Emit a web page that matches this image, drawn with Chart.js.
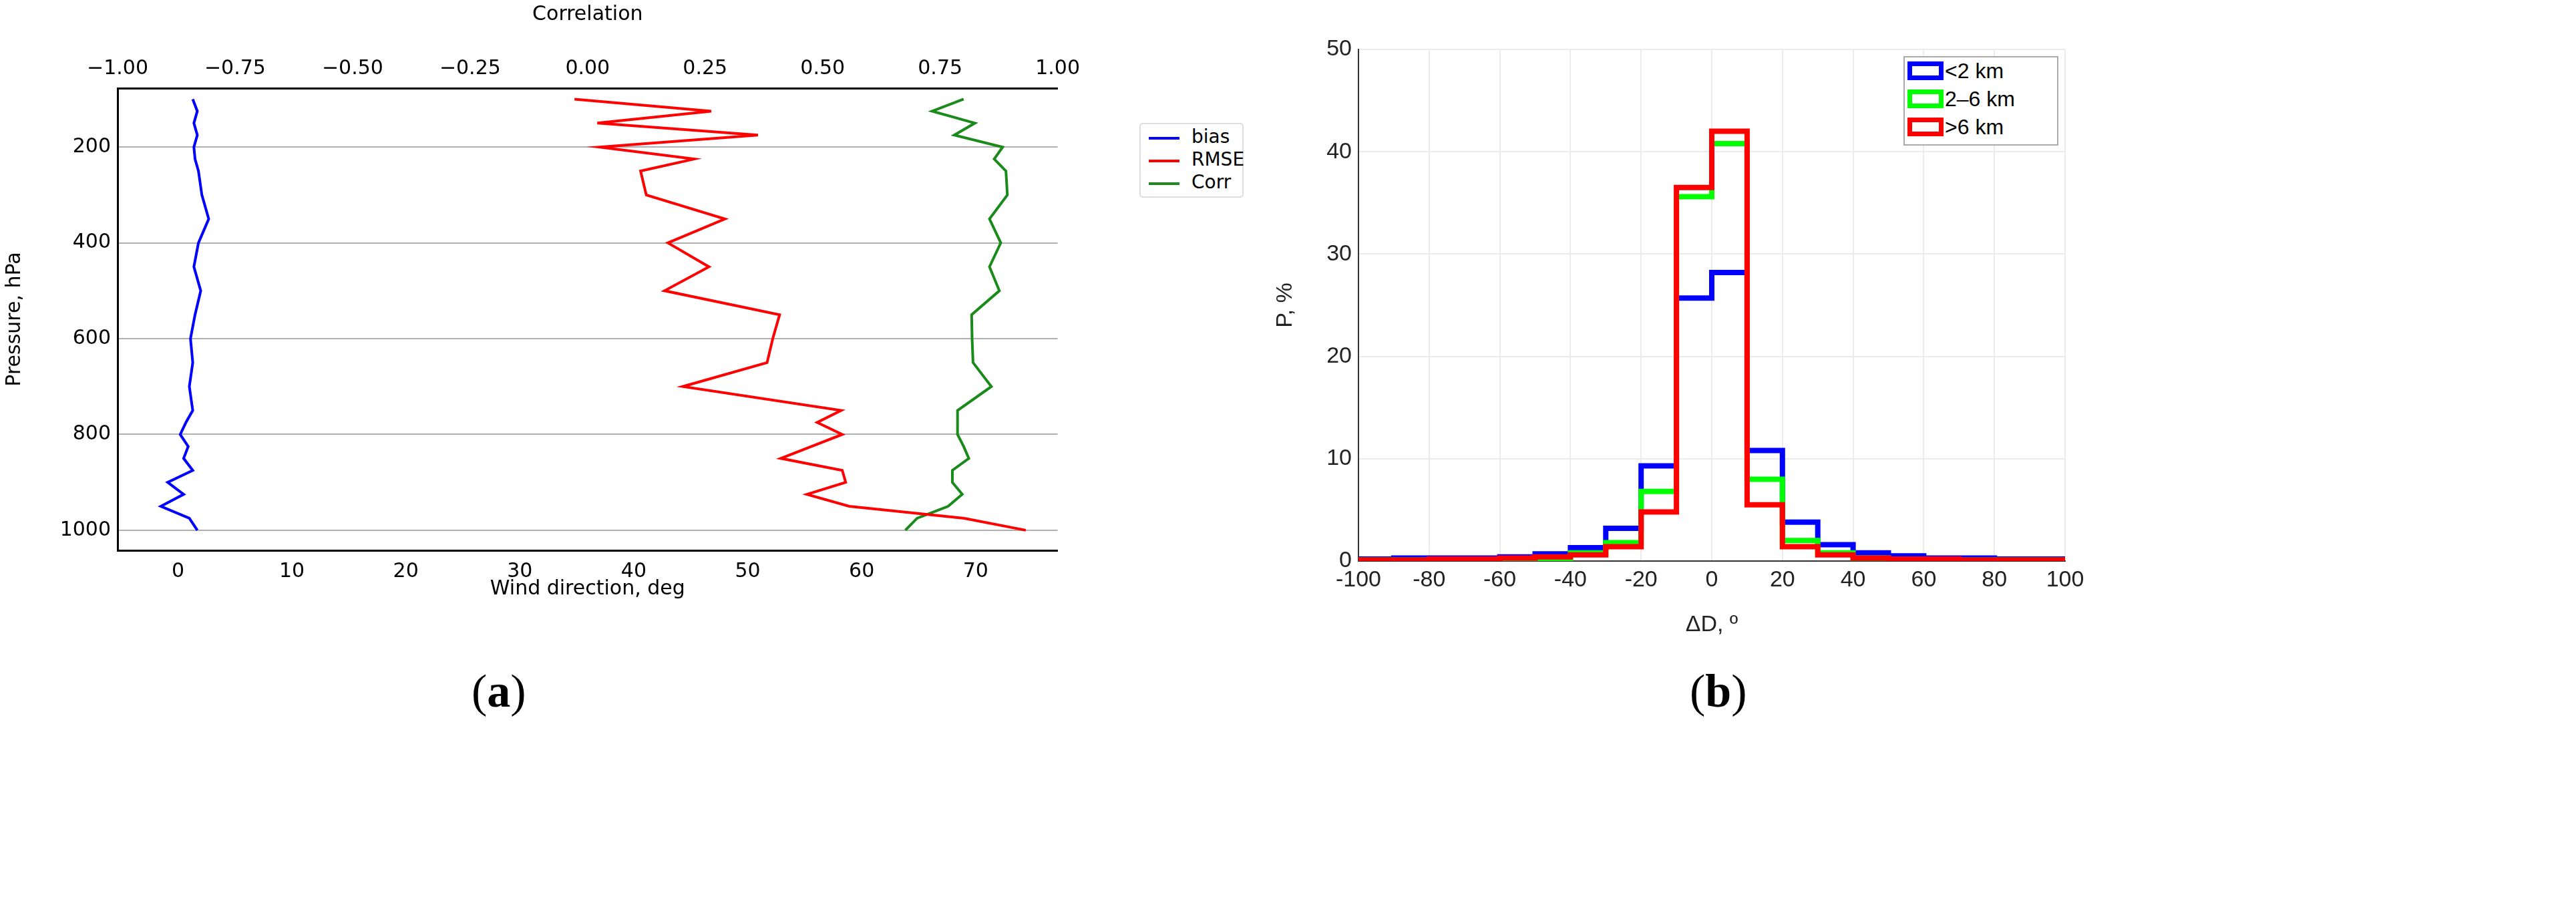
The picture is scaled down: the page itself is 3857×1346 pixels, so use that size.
<!DOCTYPE html>
<html>
<head>
<meta charset="utf-8">
<script src="https://cdn.jsdelivr.net/npm/chart.js@4"></script>
<style>
  body { margin: 0; background: #fff; width: 3857px; height: 1346px; position: relative; overflow: hidden; font-family: "DejaVu Sans", sans-serif; }
  canvas { position: absolute; }
  .leg { position: absolute; background: #fff; }
  .cap { position: absolute; font-family: "Liberation Serif", serif; font-size: 70px; }
</style>
</head>
<body>
<div style="position:absolute;left:0;top:0;width:1620px;height:900px"><canvas id="chartA"></canvas></div>
<div style="position:absolute;left:1900px;top:0;width:1957px;height:960px"><canvas id="chartB"></canvas></div>

<div class="leg" style="left:1706px;top:184px;width:152px;height:108px;border:2px solid #ddd;border-radius:5px;font-size:28px;">
  <div style="position:absolute;left:12px;top:19px;width:46px;height:4px;background:#00f"></div><div style="position:absolute;left:76px;top:2px">bias</div>
  <div style="position:absolute;left:12px;top:53px;width:46px;height:4px;background:#f00"></div><div style="position:absolute;left:76px;top:36px">RMSE</div>
  <div style="position:absolute;left:12px;top:87px;width:46px;height:4px;background:#1a8a1a"></div><div style="position:absolute;left:76px;top:70px">Corr</div>
</div>

<div class="leg" style="left:2850px;top:84px;width:228px;height:130px;border:2px solid #aaa;font-size:32px;font-family:'Liberation Sans',sans-serif">
  <div style="position:absolute;left:4px;top:6px;width:54px;height:28px;border:7px solid #0000ff;box-sizing:border-box"></div><div style="position:absolute;left:60px;top:2px">&lt;2 km</div>
  <div style="position:absolute;left:4px;top:48px;width:54px;height:28px;border:7px solid #00ff00;box-sizing:border-box"></div><div style="position:absolute;left:60px;top:44px">2–6 km</div>
  <div style="position:absolute;left:4px;top:90px;width:54px;height:28px;border:7px solid #ff0000;box-sizing:border-box"></div><div style="position:absolute;left:60px;top:86px">&gt;6 km</div>
</div>

<div class="cap" style="left:706px;top:995px">(<b>a</b>)</div>
<div class="cap" style="left:2530px;top:995px">(<b>b</b>)</div>

<script>
// panel (a): profiles vs pressure
const pressure = [100,125,150,175,200,225,250,300,350,400,450,500,550,600,650,700,750,775,800,825,850,875,900,925,950,975,1000];
const bias = [1.3,1.7,1.4,1.7,1.4,1.5,1.8,2.1,2.7,1.8,1.4,2.0,1.5,1.1,1.3,1.0,1.3,0.7,0.2,0.9,0.5,1.3,-0.9,0.5,-1.5,1.0,1.7];
const rmse = [34.8,46.8,36.8,50.9,37.0,45.3,40.6,41.1,48.0,43.0,46.6,42.7,52.8,52.2,51.7,44.3,58.2,56.1,58.3,55.6,52.9,58.3,58.6,55.2,58.9,69.0,74.4];
const corr = [0.80,0.733,0.824,0.780,0.883,0.865,0.890,0.893,0.855,0.879,0.855,0.876,0.817,0.818,0.820,0.859,0.787,0.787,0.787,0.80,0.811,0.776,0.776,0.797,0.767,0.701,0.676];
const windTicks = [0,10,20,30,40,50,60,70];
const corrTicks = [-1,-0.75,-0.5,-0.25,0,0.25,0.5,0.75,1];
const pressureTicks = [200,400,600,800,1000];

// panel (b): histograms of direction difference
const binEdges = [-100,-90,-80,-70,-60,-50,-40,-30,-20,-10,0,10,20,30,40,50,60,70,80,90,100];
const pLow = [0.2,0.3,0.3,0.3,0.4,0.7,1.3,3.2,9.3,25.7,28.2,10.8,3.8,1.6,0.8,0.5,0.3,0.3,0.2,0.2];
const pMid = [0.1,0.1,0.1,0.1,0.1,0.2,0.8,1.8,6.8,35.6,40.8,8.0,2.0,0.8,0.3,0.2,0.1,0.1,0.1,0.1];
const pHigh = [0.1,0.1,0.2,0.2,0.3,0.4,0.6,1.4,4.8,36.5,42.0,5.5,1.4,0.6,0.3,0.2,0.2,0.1,0.1,0.1];

const fontA = { family: 'DejaVu Sans', size: 30 };
const fontB = { family: 'Liberation Sans', size: 34 };

const pts = (xs) => xs.map((x, i) => ({ x: x, y: pressure[i] }));

new Chart(document.getElementById('chartA'), {
  type: 'line',
  data: {
    datasets: [
      { label: 'bias', data: pts(bias), xAxisID: 'x', borderColor: '#0000ff', borderWidth: 4, pointRadius: 0 },
      { label: 'RMSE', data: pts(rmse), xAxisID: 'x', borderColor: '#ff0000', borderWidth: 4, pointRadius: 0 },
      { label: 'Corr', data: pts(corr), xAxisID: 'x2', borderColor: '#1a8a1a', borderWidth: 4, pointRadius: 0 }
    ]
  },
  options: {
    responsive: true, maintainAspectRatio: false, animation: false,
    layout: { padding: { right: 14 } },
    plugins: { legend: { display: false }, tooltip: { enabled: false } },
    scales: {
      y: {
        type: 'linear', reverse: true, min: 77, max: 1042,
        afterBuildTicks: a => { a.ticks = pressureTicks.map(v => ({ value: v })); },
        afterFit: a => { a.width = 176; },
        grid: { color: '#b0b0b0', lineWidth: 2, drawTicks: false },
        border: { color: '#000', width: 3 },
        ticks: { font: fontA, color: '#000', padding: 10, callback: v => String(v) },
        title: { display: true, text: 'Pressure, hPa', font: fontA, color: '#000' }
      },
      x: {
        type: 'linear', position: 'bottom', min: -5.3, max: 77.2,
        afterBuildTicks: a => { a.ticks = windTicks.map(v => ({ value: v })); },
        afterFit: a => { a.height = 76; },
        grid: { display: false },
        border: { color: '#000', width: 3 },
        ticks: { font: fontA, color: '#000', padding: 6 },
        title: { display: true, text: 'Wind direction, deg', font: fontA, color: '#000', padding: 0 }
      },
      x2: {
        type: 'linear', position: 'top', min: -1, max: 1,
        afterBuildTicks: a => { a.ticks = corrTicks.map(v => ({ value: v })); },
        afterFit: a => { a.height = 132; },
        grid: { display: false },
        border: { color: '#000', width: 3 },
        ticks: { font: fontA, color: '#000', callback: v => v.toFixed(2).replace('-', '\u2212') },
        title: { display: true, text: 'Correlation', font: fontA, color: '#000' }
      }
    }
  }
});

const stepPts = (vals) => binEdges.map((x, i) => ({ x: x, y: i < vals.length ? vals[i] : vals[vals.length - 1] }));

new Chart(document.getElementById('chartB'), {
  type: 'line',
  data: {
    datasets: [
      { label: '<2 km', data: stepPts(pLow), borderColor: '#0000ff', borderWidth: 8, pointRadius: 0, stepped: 'before', order: 3 },
      { label: '2-6 km', data: stepPts(pMid), borderColor: '#00ff00', borderWidth: 8, pointRadius: 0, stepped: 'before', order: 2 },
      { label: '>6 km', data: stepPts(pHigh), borderColor: '#ff0000', borderWidth: 8, pointRadius: 0, stepped: 'before', order: 1 }
    ]
  },
  options: {
    responsive: true, maintainAspectRatio: false, animation: false,
    layout: { padding: { top: 74, right: 765 } },
    plugins: { legend: { display: false }, tooltip: { enabled: false } },
    scales: {
      x: {
        type: 'linear', min: -100, max: 100,
        ticks: { stepSize: 20, font: fontB, color: '#222', padding: 8, maxRotation: 0 },
        afterFit: a => { a.height = 120; },
        grid: { color: '#ebebeb', lineWidth: 2, tickLength: 0 },
        border: { color: '#333', width: 2 },
        title: { display: true, text: '\u0394D, \u00ba', font: fontB, color: '#222' }
      },
      y: {
        type: 'linear', min: 0, max: 50,
        ticks: { stepSize: 10, font: fontB, color: '#222', padding: 10 },
        afterFit: a => { a.width = 134; },
        grid: { color: '#ebebeb', lineWidth: 2, tickLength: 0 },
        border: { color: '#333', width: 2 },
        title: { display: true, text: 'P, %', font: fontB, color: '#222' }
      }
    }
  }
});
</script>
</body>
</html>
